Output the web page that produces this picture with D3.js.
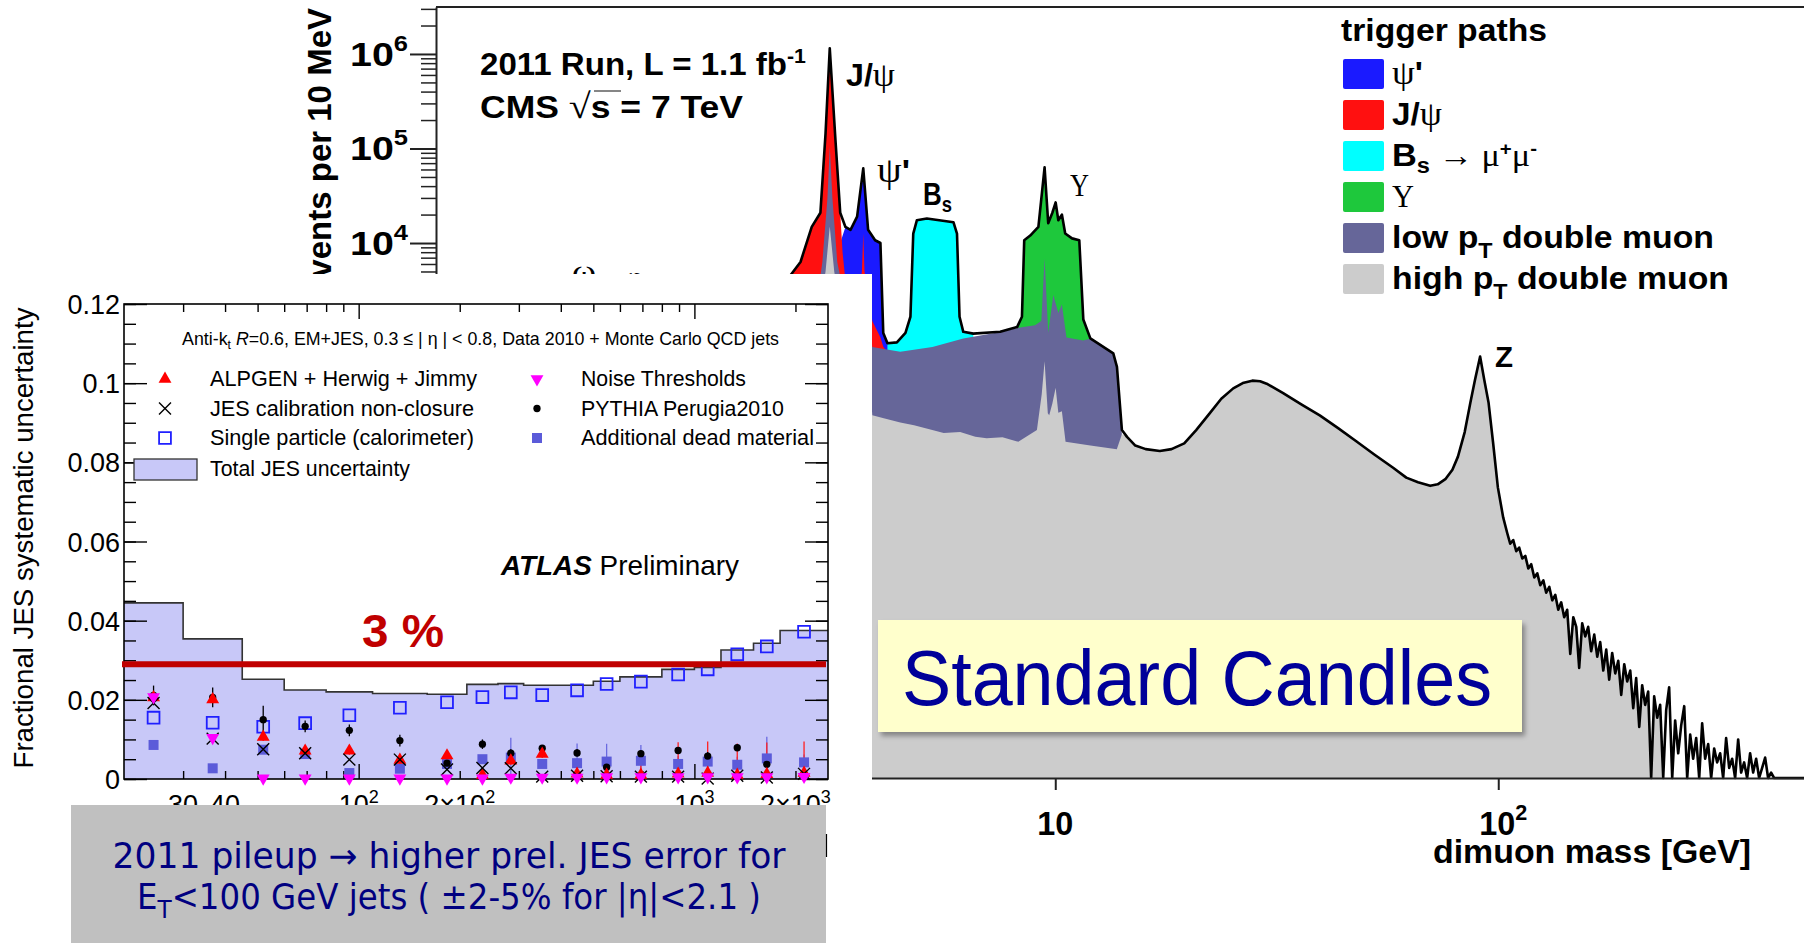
<!DOCTYPE html>
<html>
<head>
<meta charset="utf-8">
<title>Standard candles</title>
<script src="https://cdn.jsdelivr.net/npm/d3@7/dist/d3.min.js"></script>
<style>
  body { margin: 0; background: #fff; overflow: hidden; }
  svg { display: block; }
  .sans { font-family: "Liberation Sans", Arial, Helvetica, sans-serif; }
  .serif { font-family: "Liberation Serif", "Times New Roman", serif; }
</style>
</head>
<body>
<svg id="chart" width="1804" height="943"></svg>
<script>
// ---------------- CMS dimuon spectrum, [mass GeV, events per 10 MeV] ----------------
const cmsMassRange = [0.4, 490];
const cmsCountRange = [0.0219, 3.14e6];

// outline of all paths below 14.5 GeV
const cmsTotalLow = [[0.40,1500],[0.50,1700],[0.548,3000],[0.62,1800],[0.70,2000],[0.78,3600],[0.86,2300],[0.95,2200],
  [1.02,3900],[1.10,2100],[1.40,1800],[1.80,1700],[2.20,2100],[2.52,4500],[2.66,6300],[2.82,14800],[2.95,20900],
  [3.03,145000],[3.097,1150000],[3.19,123000],[3.27,20900],[3.36,14800],[3.45,13800],[3.57,19000],[3.686,61700],
  [3.78,13800],[3.92,10700],[4.03,10000],[4.09,1120],[4.18,870],[4.39,890],[4.59,1120],[4.71,1660],[4.78,12600],
  [4.87,17400],[5.13,18200],[5.89,16600],[6.00,12600],[6.08,1660],[6.20,1150],[6.53,1100],[7.51,1150],[8.20,1290],
  [8.41,1660],[8.51,10700],[8.78,12000],[9.16,14800],[9.46,63100],[9.64,16200],[9.85,20900],[10.02,26900],
  [10.16,17400],[10.35,20000],[10.53,12600],[10.91,11200],[11.33,10700],[11.57,1550],[12.0,980],[13.52,680],
  [13.78,490],[14.14,105]];

// continuum, Z and high mass tail (high pT double muon path)
const cmsContinuum = [[14.52,89],[15.16,72],[16.0,66],[17.22,63],[18.3,66],[19.55,76],[20.8,105],[22.24,155],
  [23.7,225],[25.22,290],[26.5,330],[27.85,350],[29.0,345],[30.0,325],[32.62,260],[36.0,195],[39.54,150],[43.5,110],
  [47.8,80],[52.5,58],[57.9,42],[62.0,33],[65.9,29.5],[70.2,27],[73.0,28],[76.1,32],[78.8,40],[81.1,55],[84.0,100],
  [86.5,204],[88.6,355],[91.0,630],[93.0,355],[95.1,204],[97.3,79],[99.8,26],[102.6,12.5],
  [104.8,8.5],[106.4,6.6],[108.1,7.2],[109.8,5.5],[111.5,6.0],[113.3,4.6],[115.1,4.9],[116.9,3.6],[118.7,4.0],
  [120.6,2.9],[122.5,3.2],[124.4,2.4],[126.4,2.7],[128.3,2.0],[130.4,2.3],[132.4,1.66],[134.5,1.9],[136.6,1.32],
  [138.7,1.58],[140.9,1.10],[143.1,1.32],[145.4,0.45],[147.7,1.10],[150.0,0.87],[152.3,0.32],[154.7,0.95],
  [157.2,0.69],[159.6,0.87],[162.1,0.48],[164.7,0.72],[167.3,0.42],[169.9,0.60],[172.6,0.30],[175.3,0.50],
  [178.0,0.24],[180.8,0.46],[183.7,0.28],[186.6,0.38],[189.5,0.166],[192.5,0.35],[195.5,0.23],[198.6,0.30],
  [201.7,0.12],[204.8,0.25],[208.1,0.076],[211.3,0.21],[214.6,0.13],[218.0,0.18],[221.4,0],[224.9,0.16],
  [228.5,0.095],[232.0,0.13],[235.7,0],[239.4,0.115],[243.1,0.20],[247.0,0],[250.8,0.089],[254.8,0.040],
  [258.8,0.079],[262.9,0.126],[267.0,0],[271.2,0.063],[275.4,0.035],[279.8,0.058],[284.2,0],[288.6,0.083],
  [293.1,0.035],[297.8,0.050],[302.4,0],[307.2,0.045],[312.0,0.032],[316.9,0.040],[321.9,0],[326.9,0.058],
  [332.1,0.028],[337.3,0.035],[342.6,0],[348.0,0.056],[353.4,0.025],[359.0,0.032],[364.6,0],[370.3,0.040],
  [376.2,0.025],[382.1,0.035],[388.1,0],[394.2,0.028],[400.4,0.036],[406.6,0],[413.0,0.025],[419.5,0],[490,0]];

const cmsHighPtLow = [[0.40,600],[1.0,900],[2.0,800],[2.90,1500],[3.03,5000],[3.097,15000],[3.17,5000],[3.3,1500],
  [3.6,900],[3.686,3000],[3.75,900],[3.864,151],[4.1,140],[4.468,126],[4.8,118],[5.277,105],[5.6,98],[6.1,100],
  [6.60,89],[7.0,86],[7.6,88],[8.25,79],[9.09,105],[9.32,251],[9.46,562],[9.62,158],[9.69,151],[9.85,200],
  [10.02,295],[10.16,160],[10.35,166],[10.55,79],[12.0,72],[13.77,66],[14.14,95]];

const cmsLowPt = [[0.40,900],[1.0,1200],[2.0,1100],[2.90,2500],[2.98,6300],[3.06,30000],[3.097,105000],[3.14,30000],
  [3.22,6300],[3.35,2500],[3.686,3500],[3.80,1500],[3.864,794],[4.468,708],[5.28,794],[6.20,977],[7.51,1148],
  [8.20,1259],[9.00,1349],[9.30,1500],[9.46,6900],[9.64,1122],[9.90,2818],[10.16,1820],[10.35,2240],[10.6,1000],
  [11.57,933],[12.0,980],[13.52,680],[13.78,490],[14.14,95],[14.30,0]];

const cmsJpsiTrig = [[0.40,1400],[1.0,2000],[2.0,1600],[2.52,4500],[2.66,6300],[2.82,14800],[2.95,20900],
  [3.03,145000],[3.097,1150000],[3.19,123000],[3.27,20900],[3.31,8000],[3.36,4000],[3.5,2800],[3.62,3500],
  [3.66,5000],[3.686,12600],[3.71,5000],[3.80,2500],[3.864,1500],[4.03,1000],[4.09,800],[4.18,700],[4.4,500],[4.6,0]];

const cmsPsi2STrig = [[0.4,500],[2.0,800],[3.0,3000],[3.10,8000],[3.27,10000],[3.36,14800],[3.45,13800],[3.57,19000],
  [3.686,61700],[3.78,13800],[3.92,10700],[4.03,10000],[4.09,1120],[4.18,870],[4.3,700],[4.5,0]];

const cmsBsTrig = [[4.10,0],[4.18,870],[4.39,890],[4.59,1120],[4.71,1660],[4.78,12600],[4.87,17400],[5.13,18200],
  [5.89,16600],[6.00,12600],[6.08,1660],[6.20,1150],[6.53,1100],[6.8,0]];

const cmsUpsTrig = [[8.0,0],[8.20,1290],[8.41,1660],[8.51,10700],[8.78,12000],[9.16,14800],[9.46,63100],[9.64,16200],
  [9.85,20900],[10.02,26900],[10.16,17400],[10.35,20000],[10.53,12600],[10.91,11200],[11.33,10700],[11.57,1550],
  [12.0,980],[12.3,0]];

const cmsYMajor = [0.1, 1, 10, 100, 1e3, 1e4, 1e5, 1e6];
const cmsXMajor = [10, 100];
const cmsColors = ["#1a1aff", "#ff1010", "#00ffff", "#1ec83c", "#666699", "#cccccc"];

// ---------------- ATLAS JES uncertainty ----------------
const ptEdges = [20,30,45,60,80,110,160,210,260,310,400,500,600,800,1000,1200,1500,1800,2500];
const totalJES = [0.0445,0.0354,0.0252,0.0225,0.0220,0.0216,0.0214,0.0239,0.0241,0.0237,0.0237,0.0247,0.0258,0.0277,0.0282,0.0326,0.0343,0.0375];
const singleParticle = [0.0155,0.0142,0.0132,0.0141,0.0161,0.0180,0.0194,0.0207,0.0219,0.0212,0.0224,0.0240,0.0246,0.0264,0.0277,0.0315,0.0335,0.0372];
const alpgen = [0.0206,0.0201,0.0106,0.0071,0.0071,0.0048,0.0059,0.0010,0.0046,0.0063,0.0013,0.0010,0.0010,0.0013,0.0015,0.0010,0.0012,0.0015];
const closure = [0.0192,0.0102,0.0075,0.0065,0.0049,0.0049,0.0024,0.0028,0.0027,0.0006,0.0008,0.0007,0.0006,0.0006,0.0001,0.0008,0.0004,0.0013];
const noiseThr = [0.0207,0.0104,0.0002,0.0002,0.0002,0.0002,0.0002,0.0002,0.0004,0.0004,0.0004,0.0005,0.0005,0.0005,0.0005,0.0005,0.0005,0.0006];
const pythia = [0.0211,0.0206,0.0150,0.0133,0.0123,0.0097,0.0040,0.0088,0.0065,0.0078,0.0066,0.0030,0.0064,0.0072,0.0058,0.0079,0.0037,0.0012];
const deadMaterial = [0.0086,0.0027,0.0074,0.0063,0.0015,0.0026,0.0038,0.0050,0.0054,0.0038,0.0040,0.0044,0.0046,0.0038,0.0044,0.0036,0.0052,0.0042];
const pythiaErr = [0.0025,0.0025,0.0035,0.0015,0.0015,0.0015,0.0010,0.0012,0.0010,0.0008,0.0010,0.0010,0.0008,0.0008,0.0010,0.0008,0.0010,0.0010];
const alpgenErr = [0.001,0.001,0.001,0.001,0.001,0.001,0.001,0.001,0.001,0.001,0.002,0.002,0.003,0.008,0.008,0.008,0.008,0.008];
const deadErr = [0.0005,0.0005,0.0005,0.0005,0.0005,0.0005,0.0005,0.001,0.005,0.001,0.005,0.0045,0.004,0.002,0.002,0.002,0.0055,0.002];
const jesLimit = 0.029;
const atlasYTicks = [0, 0.02, 0.04, 0.06, 0.08, 0.1, 0.12];
const atlasXLabels = [[30, "30", ""], [40, "40", ""], [100, "10", "2"], [200, "2×10", "2"], [1000, "10", "3"], [2000, "2×10", "3"]];
const atlasLegend = ["ALPGEN + Herwig + Jimmy", "JES calibration non-closure", "Single particle (calorimeter)",
  "Noise Thresholds", "PYTHIA Perugia2010", "Additional dead material", "Total JES uncertainty"];

const svg = d3.select("#chart");
const defs = svg.append("defs");
defs.append("filter").attr("id", "shadow").attr("x", "-5%").attr("y", "-10%").attr("width", "115%").attr("height", "135%")
  .append("feDropShadow").attr("dx", 3).attr("dy", 4).attr("stdDeviation", 2.5)
  .attr("flood-color", "#000").attr("flood-opacity", 0.35);

// ================= CMS =================
const cx = d3.scaleLog().domain(cmsMassRange).range([436, 1804]);
const cy = d3.scaleLog().domain(cmsCountRange).range([778, 7]).clamp(true);
const cmsArea = d3.area().x(d => cx(d[0])).y0(778).y1(d => cy(d[1]));
const cmsLine = d3.line().x(d => cx(d[0])).y(d => cy(d[1]));

const cms = svg.append("g").attr("class", "sans");

const highPt = cmsHighPtLow.concat(cmsContinuum.filter(d => d[0] < 234), [[234, 0]]);
const layers = [cmsPsi2STrig, cmsJpsiTrig, cmsBsTrig, cmsUpsTrig, cmsLowPt, highPt];
cms.selectAll("path.layer").data(layers).join("path")
  .attr("class", "layer")
  .attr("d", cmsArea)
  .attr("fill", (d, i) => cmsColors[i]);

cms.append("path")
  .attr("d", cmsLine(cmsTotalLow.concat(cmsContinuum)))
  .attr("fill", "none").attr("stroke", "#000").attr("stroke-width", 2.6)
  .attr("stroke-linejoin", "round");

// frame + axes
cms.append("line").attr("x1", 436).attr("x2", 1804).attr("y1", 7).attr("y2", 7)
  .attr("stroke", "#222").attr("stroke-width", 2);

const yMinor = [];
for (let k = -2; k <= 6; k++) for (let j = 2; j <= 9; j++) {
  const v = j * Math.pow(10, k);
  if (v > cmsCountRange[0] && v < cmsCountRange[1]) yMinor.push(v);
}
cms.append("g").attr("transform", "translate(436,0)")
  .call(d3.axisLeft(cy).tickValues(cmsYMajor).tickSize(26).tickSizeOuter(0).tickFormat(""))
  .call(g => g.selectAll("path,line").attr("stroke", "#222").attr("stroke-width", 2));
cms.append("g").attr("transform", "translate(436,0)")
  .call(d3.axisLeft(cy).tickValues(yMinor).tickSize(15).tickFormat(""))
  .call(g => g.select(".domain").remove())
  .call(g => g.selectAll("line").attr("stroke", "#222").attr("stroke-width", 1.5));

cmsYMajor.forEach(v => {
  const e = Math.round(Math.log10(v));
  const t = cms.append("text").attr("x", 408).attr("y", cy(v) + 12)
    .attr("text-anchor", "end").attr("font-weight", "bold").attr("font-size", 34)
    .attr("textLength", 58).attr("lengthAdjust", "spacingAndGlyphs");
  t.append("tspan").text("10");
  t.append("tspan").attr("dy", -15).attr("font-size", 22).text(e);
});

cms.append("g").attr("transform", "translate(0,778)")
  .call(d3.axisBottom(cx).tickValues(cmsXMajor).tickSize(12).tickSizeOuter(0).tickFormat(""))
  .call(g => g.selectAll("path,line").attr("stroke", "#222").attr("stroke-width", 2));

cms.append("text").attr("x", cx(10)).attr("y", 835).attr("text-anchor", "middle")
  .attr("font-weight", "bold").attr("font-size", 33)
  .attr("textLength", 36).attr("lengthAdjust", "spacingAndGlyphs").text("10");
const x100 = cms.append("text").attr("x", cx(100) - 19).attr("y", 835)
  .attr("font-weight", "bold").attr("font-size", 33)
  .attr("textLength", 48).attr("lengthAdjust", "spacingAndGlyphs");
x100.append("tspan").text("10");
x100.append("tspan").attr("dy", -15).attr("font-size", 22).text("2");

cms.append("text").attr("x", 1433).attr("y", 863).attr("font-weight", "bold").attr("font-size", 33)
  .attr("textLength", 318).attr("lengthAdjust", "spacingAndGlyphs").text("dimuon mass [GeV]");

cms.append("text").attr("transform", "translate(331,8) rotate(-90)").attr("text-anchor", "end")
  .attr("font-weight", "bold").attr("font-size", 33).text("Events per 10 MeV");

// peak labels
const lab = (x, y, w, parts, size) => {
  const t = cms.append("text").attr("x", x).attr("y", y).attr("font-size", size || 31)
    .attr("textLength", w).attr("lengthAdjust", "spacingAndGlyphs");
  parts.forEach(p => {
    const s = t.append("tspan").text(p.t);
    if (p.b) s.attr("font-weight", "bold");
    if (p.serif) s.attr("class", "serif");
    if (p.dy) s.attr("dy", p.dy);
    if (p.fs) s.attr("font-size", p.fs);
  });
  return t;
};
lab(846, 86, 49, [{t: "J/", b: 1}, {t: "ψ", serif: 1, fs: 34}]);
lab(877, 182, 33, [{t: "ψ", serif: 1, fs: 35}, {t: "'", b: 1}]);
lab(923, 205, 29, [{t: "B", b: 1}, {t: "s", b: 1, dy: 7, fs: 22}]);
lab(1070, 196, 19, [{t: "Υ", serif: 1, fs: 32}]);
lab(1495, 367, 18, [{t: "Z", b: 1}], 30);
lab(572, 282, 24, [{t: "ω", serif: 1}]);
lab(625, 288, 18, [{t: "φ", serif: 1}]);

// run text
const run = cms.append("text").attr("x", 480).attr("y", 75).attr("font-weight", "bold").attr("font-size", 31)
  .attr("textLength", 326).attr("lengthAdjust", "spacingAndGlyphs");
run.append("tspan").text("2011 Run, L = 1.1 fb");
run.append("tspan").attr("dy", -12).attr("font-size", 20).text("-1");
const cmsT = cms.append("text").attr("x", 480).attr("y", 118).attr("font-weight", "bold").attr("font-size", 31)
  .attr("textLength", 263).attr("lengthAdjust", "spacingAndGlyphs");
cmsT.append("tspan").text("CMS  ");
cmsT.append("tspan").attr("font-weight", "normal").attr("class", "serif").attr("font-size", 35).text("√");
cmsT.append("tspan").text("s = 7 TeV");
cms.append("line").attr("x1", 594).attr("x2", 621).attr("y1", 91).attr("y2", 91)
  .attr("stroke", "#444").attr("stroke-width", 1.3);

// legend
cms.append("text").attr("x", 1341).attr("y", 41).attr("font-weight", "bold").attr("font-size", 31)
  .attr("textLength", 206).attr("lengthAdjust", "spacingAndGlyphs").text("trigger paths");
cmsColors.forEach((c, i) => {
  cms.append("rect").attr("x", 1343).attr("y", 59 + i * 41).attr("width", 41).attr("height", 30)
    .attr("rx", 2).attr("fill", c);
});
const legParts = [
  [{t: "ψ", serif: 1, fs: 34}, {t: "'", b: 1}],
  [{t: "J/", b: 1}, {t: "ψ", serif: 1, fs: 34}],
  [{t: "B", b: 1}, {t: "s", b: 1, dy: 7, fs: 22}, {t: " → μ", serif: 1, dy: -7, fs: 32}, {t: "+", b: 1, dy: -11, fs: 19},
   {t: "μ", serif: 1, dy: 11, fs: 32}, {t: "-", b: 1, dy: -11, fs: 19}],
  [{t: "Υ", serif: 1, fs: 32}],
  [{t: "low p", b: 1}, {t: "T", b: 1, dy: 10, fs: 22}, {t: " double muon", b: 1, dy: -10}],
  [{t: "high p", b: 1}, {t: "T", b: 1, dy: 10, fs: 22}, {t: " double muon", b: 1, dy: -10}]
];
const legW = [31, 50, 145, 22, 322, 337];
legParts.forEach((p, i) => lab(1392, 84 + i * 41, legW[i], p, 32));

// ================= ATLAS inset =================
svg.append("rect").attr("x", 0).attr("y", 274).attr("width", 872).attr("height", 669).attr("fill", "#fff");

const at = svg.append("g").attr("class", "sans");
const ax = d3.scaleLog().domain([ptEdges[0], ptEdges[ptEdges.length - 1]]).range([124, 828]);
const ay = d3.scaleLinear().domain([0, 0.12]).range([779, 304]);
const ptCenters = ptEdges.slice(0, -1).map((e, i) => Math.sqrt(e * ptEdges[i + 1]));
const stepData = ptEdges.map((e, i) => [e, totalJES[Math.min(i, totalJES.length - 1)]]);

at.append("path")
  .attr("d", d3.area().curve(d3.curveStepAfter).x(d => ax(d[0])).y0(ay(0)).y1(d => ay(d[1]))(stepData))
  .attr("fill", "#c8c8f8");
at.append("path")
  .attr("d", d3.line().curve(d3.curveStepAfter).x(d => ax(d[0])).y(d => ay(d[1]))(stepData))
  .attr("fill", "none").attr("stroke", "#333").attr("stroke-width", 1.6);

// axes (ticks inside the frame on all four sides)
const yMinorA = d3.range(0, 0.1201, 0.005);
const xMinorA = [30,40,50,60,70,80,90,200,300,400,500,600,700,800,900,2000];
const tickStyle = g => g.call(s => s.select(".domain").remove())
  .call(s => s.selectAll("line").attr("stroke", "#000").attr("stroke-width", 1.4));
at.append("g").attr("transform", "translate(124,0)")
  .call(d3.axisRight(ay).tickValues(atlasYTicks).tickSize(23).tickFormat("")).call(tickStyle);
at.append("g").attr("transform", "translate(124,0)")
  .call(d3.axisRight(ay).tickValues(yMinorA).tickSize(12).tickFormat("")).call(tickStyle);
at.append("g").attr("transform", "translate(828,0)")
  .call(d3.axisLeft(ay).tickValues(atlasYTicks).tickSize(23).tickFormat("")).call(tickStyle);
at.append("g").attr("transform", "translate(828,0)")
  .call(d3.axisLeft(ay).tickValues(yMinorA).tickSize(12).tickFormat("")).call(tickStyle);
at.append("g").attr("transform", "translate(0,779)")
  .call(d3.axisTop(ax).tickValues([100, 1000]).tickSize(15).tickFormat("")).call(tickStyle);
at.append("g").attr("transform", "translate(0,779)")
  .call(d3.axisTop(ax).tickValues(xMinorA).tickSize(8).tickFormat("")).call(tickStyle);
at.append("g").attr("transform", "translate(0,304)")
  .call(d3.axisBottom(ax).tickValues([100, 1000]).tickSize(15).tickFormat("")).call(tickStyle);
at.append("g").attr("transform", "translate(0,304)")
  .call(d3.axisBottom(ax).tickValues(xMinorA).tickSize(8).tickFormat("")).call(tickStyle);

at.append("rect").attr("x", 124).attr("y", 304).attr("width", 704).attr("height", 475)
  .attr("fill", "none").attr("stroke", "#000").attr("stroke-width", 1.6);

at.selectAll("text.ytl").data(atlasYTicks).join("text").attr("class", "ytl")
  .attr("x", 120).attr("y", d => ay(d) + 10).attr("text-anchor", "end").attr("font-size", 27)
  .text(d => d === 0 ? "0" : String(d));

atlasXLabels.forEach(([v, base, sup]) => {
  const t = at.append("text").attr("x", ax(v)).attr("y", 814).attr("text-anchor", "middle").attr("font-size", 27);
  t.append("tspan").text(base);
  if (sup) t.append("tspan").attr("dy", -11).attr("font-size", 18).text(sup);
});

at.append("text").attr("transform", "translate(33,538) rotate(-90)").attr("text-anchor", "middle")
  .attr("font-size", 27).attr("textLength", 461).attr("lengthAdjust", "spacingAndGlyphs")
  .text("Fractional JES systematic uncertainty");

// markers
const marker = (g, kind, x, y) => {
  const p = g.append("path").attr("transform", `translate(${x},${y})`);
  if (kind === "alpgen") p.attr("d", d3.symbol(d3.symbolTriangle, 72)()).attr("fill", "#ff0000");
  if (kind === "noise") p.attr("d", d3.symbol(d3.symbolTriangle, 72)()).attr("fill", "#ff00ff")
    .attr("transform", `translate(${x},${y}) rotate(180)`);
  if (kind === "closure") p.attr("d", d3.symbol(d3.symbolTimes, 95)()).attr("fill", "none")
    .attr("stroke", "#000").attr("stroke-width", 1.4);
  if (kind === "single") p.attr("d", d3.symbol(d3.symbolSquare, 140)()).attr("fill", "none")
    .attr("stroke", "#2020ff").attr("stroke-width", 1.8);
  if (kind === "pythia") p.attr("d", d3.symbol(d3.symbolCircle, 42)()).attr("fill", "#000");
  if (kind === "dead") p.attr("d", d3.symbol(d3.symbolSquare, 100)()).attr("fill", "#5b5bd9");
};
const errBars = (vals, errs, color) => vals.forEach((v, i) => {
  at.append("line").attr("x1", ax(ptCenters[i])).attr("x2", ax(ptCenters[i]))
    .attr("y1", ay(Math.max(0, v - errs[i]))).attr("y2", ay(v + errs[i]))
    .attr("stroke", color).attr("stroke-width", 1.3);
});
errBars(deadMaterial, deadErr, "#6a6ae0");
errBars(alpgen, alpgenErr, "#ff2020");
errBars(pythia, pythiaErr, "#000");

const series = [[singleParticle, "single"], [deadMaterial, "dead"], [pythia, "pythia"],
  [alpgen, "alpgen"], [closure, "closure"], [noiseThr, "noise"]];
series.forEach(([vals, kind]) => vals.forEach((v, i) => marker(at, kind, ax(ptCenters[i]), ay(v))));

// 3% line and label
at.append("line").attr("x1", 122).attr("x2", 826).attr("y1", ay(jesLimit)).attr("y2", ay(jesLimit))
  .attr("stroke", "#c00000").attr("stroke-width", 6);
at.append("text").attr("x", 362).attr("y", 647).attr("font-size", 47).attr("font-weight", "bold")
  .attr("fill", "#c00000").attr("textLength", 82).attr("lengthAdjust", "spacingAndGlyphs").text("3 %");

// header and legend
const hdr = at.append("text").attr("x", 182).attr("y", 345).attr("font-size", 19)
  .attr("textLength", 597).attr("lengthAdjust", "spacingAndGlyphs");
hdr.append("tspan").text("Anti-k");
hdr.append("tspan").attr("dy", 4).attr("font-size", 13).text("t");
hdr.append("tspan").attr("dy", -4).text(" ");
hdr.append("tspan").attr("font-style", "italic").text("R");
hdr.append("tspan").text("=0.6, EM+JES, 0.3 ≤ | η | < 0.8, Data 2010 + Monte Carlo QCD jets");

const legKinds = ["alpgen", "closure", "single", "noise", "pythia", "dead"];
const legTextW = [267, 264, 264, 165, 203, 233];
legKinds.forEach((k, i) => {
  const col = Math.floor(i / 3), row = i % 3;
  const mx = col ? 537 : 165, tx = col ? 581 : 210, y = 379 + row * 29.5;
  marker(at, k, mx, y);
  at.append("text").attr("x", tx).attr("y", y + 7).attr("font-size", 22)
    .attr("textLength", legTextW[i]).attr("lengthAdjust", "spacingAndGlyphs").text(atlasLegend[i]);
});
at.append("rect").attr("x", 134).attr("y", 459).attr("width", 63).attr("height", 21)
  .attr("fill", "#c8c8f8").attr("stroke", "#333").attr("stroke-width", 1.3);
at.append("text").attr("x", 210).attr("y", 476).attr("font-size", 22)
  .attr("textLength", 200).attr("lengthAdjust", "spacingAndGlyphs").text(atlasLegend[6]);

const atl = at.append("text").attr("x", 501).attr("y", 575).attr("font-size", 28)
  .attr("textLength", 238).attr("lengthAdjust", "spacingAndGlyphs");
atl.append("tspan").attr("font-weight", "bold").attr("font-style", "italic").text("ATLAS");
atl.append("tspan").text(" Preliminary");

// ================= overlay boxes =================
svg.append("rect").attr("x", 71).attr("y", 805).attr("width", 755).attr("height", 138).attr("fill", "#c0c0c0");
svg.append("line").attr("x1", 826.5).attr("x2", 826.5).attr("y1", 834).attr("y2", 857)
  .attr("stroke", "#000").attr("stroke-width", 1.2);
const note = svg.append("g").attr("font-family", "'DejaVu Sans', Verdana, sans-serif").attr("fill", "#000080");
note.append("text").attr("x", 449).attr("y", 868).attr("text-anchor", "middle").attr("font-size", 35)
  .attr("textLength", 673).attr("lengthAdjust", "spacingAndGlyphs")
  .text("2011 pileup → higher prel. JES error for");
const l2 = note.append("text").attr("x", 449).attr("y", 909).attr("text-anchor", "middle").attr("font-size", 35)
  .attr("textLength", 624).attr("lengthAdjust", "spacingAndGlyphs");
l2.append("tspan").text("E");
l2.append("tspan").attr("dy", 9).attr("font-size", 25).text("T");
l2.append("tspan").attr("dy", -9).text("<100 GeV jets ( ±2-5% for |η|<2.1 )");

svg.append("rect").attr("x", 878).attr("y", 620).attr("width", 644).attr("height", 112)
  .attr("fill", "#ffffcc").attr("filter", "url(#shadow)");
svg.append("text").attr("class", "sans").attr("x", 902).attr("y", 705).attr("font-size", 77)
  .attr("fill", "#000099").attr("textLength", 590).attr("lengthAdjust", "spacingAndGlyphs")
  .text("Standard Candles");
</script>
</body>
</html>
